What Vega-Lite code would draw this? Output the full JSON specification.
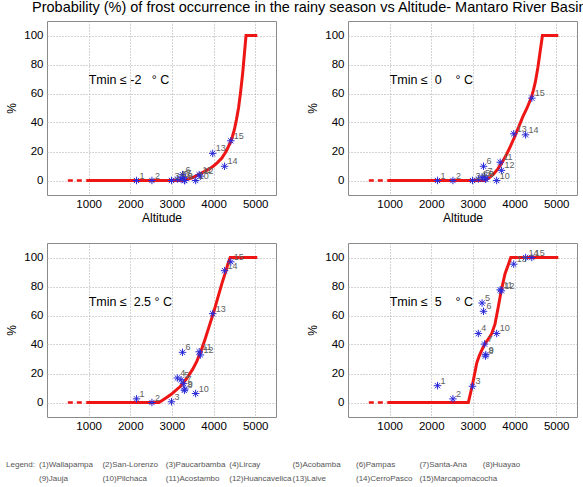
{
  "$schema": "https://vega.github.io/schema/vega-lite/v6.json",
  "padding": {"left": 5, "top": 0, "right": 0, "bottom": 0},
  "title": {
    "text": "Probability (%) of frost occurrence in the rainy season vs Altitude- Mantaro River Basin",
    "anchor": "start",
    "frame": "group",
    "dx": -15,
    "offset": 5,
    "fontSize": 14.5,
    "fontWeight": "normal",
    "color": "#000"
  },
  "datasets": {
    "stations": [
      {"n": 1, "name": "Wallapampa", "alt": 2150, "tm2": 0, "t0": 0, "t25": 2.5, "t5": 11.6},
      {"n": 2, "name": "San-Lorenzo", "alt": 2520, "tm2": 0, "t0": 0, "t25": 0, "t5": 2.5},
      {"n": 3, "name": "Paucarbamba", "alt": 2990, "tm2": 0, "t0": 0, "t25": 0.5, "t5": 11.2},
      {"n": 4, "name": "Lircay", "alt": 3130, "tm2": 1, "t0": 1, "t25": 16.9, "t5": 47.6},
      {"n": 5, "name": "Acobamba", "alt": 3220, "tm2": 1, "t0": 2, "t25": 15.7, "t5": 68.6},
      {"n": 6, "name": "Pampas", "alt": 3255, "tm2": 4, "t0": 9.8, "t25": 34.6, "t5": 62.9},
      {"n": 7, "name": "Santa-Ana", "alt": 3280, "tm2": 2, "t0": 3, "t25": 13, "t5": 40.3},
      {"n": 8, "name": "Huayao", "alt": 3300, "tm2": 0, "t0": 1, "t25": 8.4, "t5": 32},
      {"n": 9, "name": "Jauja", "alt": 3310, "tm2": 0, "t0": 1, "t25": 9.3, "t5": 33},
      {"n": 10, "name": "Pilchaca", "alt": 3570, "tm2": 0, "t0": 0, "t25": 6.2, "t5": 47.6},
      {"n": 11, "name": "Acostambo", "alt": 3655, "tm2": 4, "t0": 12.6, "t25": 35, "t5": 77.7},
      {"n": 12, "name": "Huancavelica", "alt": 3685, "tm2": 3, "t0": 7, "t25": 32.8, "t5": 77},
      {"n": 13, "name": "Laive", "alt": 3980, "tm2": 18.7, "t0": 32.2, "t25": 61.3, "t5": 95.4},
      {"n": 14, "name": "CerroPasco", "alt": 4265, "tm2": 9.8, "t0": 31.5, "t25": 90.9, "t5": 100},
      {"n": 15, "name": "Marcapomacocha", "alt": 4415, "tm2": 27.4, "t0": 56.8, "t25": 97, "t5": 100}
    ],
    "curves": [
      {"panel": "tm2", "alt": 500, "pct": 0}, {"panel": "tm2", "alt": 950, "pct": 0},
      {"panel": "tm2", "alt": 3280, "pct": 0}, {"panel": "tm2", "alt": 3500, "pct": 2},
      {"panel": "tm2", "alt": 3700, "pct": 5}, {"panel": "tm2", "alt": 3900, "pct": 8},
      {"panel": "tm2", "alt": 4000, "pct": 10}, {"panel": "tm2", "alt": 4100, "pct": 12.5},
      {"panel": "tm2", "alt": 4200, "pct": 15.5}, {"panel": "tm2", "alt": 4300, "pct": 20},
      {"panel": "tm2", "alt": 4400, "pct": 26}, {"panel": "tm2", "alt": 4450, "pct": 30},
      {"panel": "tm2", "alt": 4500, "pct": 35}, {"panel": "tm2", "alt": 4550, "pct": 42},
      {"panel": "tm2", "alt": 4600, "pct": 50}, {"panel": "tm2", "alt": 4650, "pct": 61},
      {"panel": "tm2", "alt": 4700, "pct": 74}, {"panel": "tm2", "alt": 4740, "pct": 87},
      {"panel": "tm2", "alt": 4780, "pct": 100}, {"panel": "tm2", "alt": 5050, "pct": 100},

      {"panel": "t0", "alt": 500, "pct": 0}, {"panel": "t0", "alt": 950, "pct": 0},
      {"panel": "t0", "alt": 3270, "pct": 0}, {"panel": "t0", "alt": 3400, "pct": 2},
      {"panel": "t0", "alt": 3500, "pct": 4.5}, {"panel": "t0", "alt": 3600, "pct": 8},
      {"panel": "t0", "alt": 3700, "pct": 12.5}, {"panel": "t0", "alt": 3800, "pct": 17.5},
      {"panel": "t0", "alt": 3900, "pct": 23.5}, {"panel": "t0", "alt": 4000, "pct": 30},
      {"panel": "t0", "alt": 4100, "pct": 37}, {"panel": "t0", "alt": 4200, "pct": 44},
      {"panel": "t0", "alt": 4300, "pct": 50}, {"panel": "t0", "alt": 4400, "pct": 57},
      {"panel": "t0", "alt": 4450, "pct": 62}, {"panel": "t0", "alt": 4500, "pct": 68},
      {"panel": "t0", "alt": 4560, "pct": 78}, {"panel": "t0", "alt": 4620, "pct": 90},
      {"panel": "t0", "alt": 4670, "pct": 100}, {"panel": "t0", "alt": 5050, "pct": 100},

      {"panel": "t25", "alt": 500, "pct": 0}, {"panel": "t25", "alt": 950, "pct": 0},
      {"panel": "t25", "alt": 2690, "pct": 0}, {"panel": "t25", "alt": 2800, "pct": 2},
      {"panel": "t25", "alt": 2900, "pct": 4}, {"panel": "t25", "alt": 3000, "pct": 6},
      {"panel": "t25", "alt": 3100, "pct": 8.5}, {"panel": "t25", "alt": 3200, "pct": 11},
      {"panel": "t25", "alt": 3300, "pct": 14.5}, {"panel": "t25", "alt": 3400, "pct": 18.5},
      {"panel": "t25", "alt": 3500, "pct": 23}, {"panel": "t25", "alt": 3600, "pct": 28.5},
      {"panel": "t25", "alt": 3700, "pct": 35.5}, {"panel": "t25", "alt": 3800, "pct": 44},
      {"panel": "t25", "alt": 3900, "pct": 53}, {"panel": "t25", "alt": 4000, "pct": 62},
      {"panel": "t25", "alt": 4100, "pct": 72}, {"panel": "t25", "alt": 4200, "pct": 82},
      {"panel": "t25", "alt": 4300, "pct": 91}, {"panel": "t25", "alt": 4350, "pct": 96},
      {"panel": "t25", "alt": 4400, "pct": 100}, {"panel": "t25", "alt": 5050, "pct": 100},

      {"panel": "t5", "alt": 500, "pct": 0}, {"panel": "t5", "alt": 950, "pct": 0},
      {"panel": "t5", "alt": 2890, "pct": 0}, {"panel": "t5", "alt": 2980, "pct": 11},
      {"panel": "t5", "alt": 3050, "pct": 21}, {"panel": "t5", "alt": 3090, "pct": 27},
      {"panel": "t5", "alt": 3150, "pct": 32}, {"panel": "t5", "alt": 3210, "pct": 36},
      {"panel": "t5", "alt": 3300, "pct": 41}, {"panel": "t5", "alt": 3400, "pct": 45},
      {"panel": "t5", "alt": 3450, "pct": 47.5}, {"panel": "t5", "alt": 3530, "pct": 54},
      {"panel": "t5", "alt": 3610, "pct": 66}, {"panel": "t5", "alt": 3680, "pct": 77},
      {"panel": "t5", "alt": 3770, "pct": 88.6}, {"panel": "t5", "alt": 3850, "pct": 95},
      {"panel": "t5", "alt": 3910, "pct": 100}, {"panel": "t5", "alt": 5050, "pct": 100}
    ]
  },
  "columns": 2,
  "spacing": {"row": 48, "column": 72},
  "bounds": "flush",
  "concat": [
    {
      "width": 229, "height": 174,
      "view": {"stroke": "#8a8a8a", "strokeWidth": 1},
      "layer": [
        {"data": {"name": "curves"}, "transform": [{"filter": "datum.panel == 'tm2' && datum.alt <= 950"}],
         "mark": {"type": "line", "color": "#ee1515", "strokeWidth": 2.5, "strokeDash": [5, 4]},
         "encoding": {
           "x": {"field": "alt", "type": "quantitative", "scale": {"domain": [0, 5500], "nice": false, "zero": false},
                 "axis": {"values": [1000, 2000, 3000, 4000, 5000], "format": "d", "title": "Altitude"}},
           "y": {"field": "pct", "type": "quantitative", "scale": {"domain": [-10, 110], "nice": false, "zero": false},
                 "axis": {"values": [0, 20, 40, 60, 80, 100], "tickCount": 6, "labelOverlap": false, "format": "d", "title": "%"}}}},
        {"data": {"name": "curves"}, "transform": [{"filter": "datum.panel == 'tm2' && datum.alt >= 950"}],
         "mark": {"type": "line", "color": "#ee1515", "strokeWidth": 3},
         "encoding": {"x": {"field": "alt", "type": "quantitative"}, "y": {"field": "pct", "type": "quantitative"}}},
        {"data": {"name": "stations"},
         "mark": {"type": "point", "shape": "M0,-1L0,1M-1,0L1,0M-0.7,-0.7L0.7,0.7M-0.7,0.7L0.7,-0.7", "size": 56, "filled": false, "color": "#2a2ad8", "strokeWidth": 1, "opacity": 1},
         "encoding": {"x": {"field": "alt", "type": "quantitative"},
                      "y": {"field": "tm2", "type": "quantitative", "axis": {"values": [0, 20, 40, 60, 80, 100], "tickCount": 6, "labelOverlap": false, "format": "d", "title": "%"}}}},
        {"data": {"name": "stations"},
         "mark": {"type": "text", "align": "left", "baseline": "middle", "dx": 3, "dy": -5, "fontSize": 9, "color": "#606060"},
         "encoding": {"x": {"field": "alt", "type": "quantitative"}, "y": {"field": "tm2", "type": "quantitative"}, "text": {"field": "n"}}},
        {"data": {"values": [{}]},
         "mark": {"type": "text", "text": "Tmin ≤ -2\u00a0\u00a0\u00a0° C", "align": "left", "baseline": "middle", "fontSize": 12.5, "color": "#000"},
         "encoding": {"x": {"datum": 1000}, "y": {"datum": 69}}}
      ]
    },
    {
      "width": 229, "height": 174,
      "view": {"stroke": "#8a8a8a", "strokeWidth": 1},
      "layer": [
        {"data": {"name": "curves"}, "transform": [{"filter": "datum.panel == 't0' && datum.alt <= 950"}],
         "mark": {"type": "line", "color": "#ee1515", "strokeWidth": 2.5, "strokeDash": [5, 4]},
         "encoding": {
           "x": {"field": "alt", "type": "quantitative", "scale": {"domain": [0, 5500], "nice": false, "zero": false},
                 "axis": {"values": [1000, 2000, 3000, 4000, 5000], "format": "d", "title": "Altitude"}},
           "y": {"field": "pct", "type": "quantitative", "scale": {"domain": [-10, 110], "nice": false, "zero": false},
                 "axis": {"values": [0, 20, 40, 60, 80, 100], "tickCount": 6, "labelOverlap": false, "format": "d", "title": "%"}}}},
        {"data": {"name": "curves"}, "transform": [{"filter": "datum.panel == 't0' && datum.alt >= 950"}],
         "mark": {"type": "line", "color": "#ee1515", "strokeWidth": 3},
         "encoding": {"x": {"field": "alt", "type": "quantitative"}, "y": {"field": "pct", "type": "quantitative"}}},
        {"data": {"name": "stations"},
         "mark": {"type": "point", "shape": "M0,-1L0,1M-1,0L1,0M-0.7,-0.7L0.7,0.7M-0.7,0.7L0.7,-0.7", "size": 56, "filled": false, "color": "#2a2ad8", "strokeWidth": 1, "opacity": 1},
         "encoding": {"x": {"field": "alt", "type": "quantitative"},
                      "y": {"field": "t0", "type": "quantitative", "axis": {"values": [0, 20, 40, 60, 80, 100], "tickCount": 6, "labelOverlap": false, "format": "d", "title": "%"}}}},
        {"data": {"name": "stations"},
         "mark": {"type": "text", "align": "left", "baseline": "middle", "dx": 3, "dy": -5, "fontSize": 9, "color": "#606060"},
         "encoding": {"x": {"field": "alt", "type": "quantitative"}, "y": {"field": "t0", "type": "quantitative"}, "text": {"field": "n"}}},
        {"data": {"values": [{}]},
         "mark": {"type": "text", "text": "Tmin ≤\u00a0\u00a00\u00a0\u00a0\u00a0\u00a0° C", "align": "left", "baseline": "middle", "fontSize": 12.5, "color": "#000"},
         "encoding": {"x": {"datum": 1000}, "y": {"datum": 69}}}
      ]
    },
    {
      "width": 229, "height": 174,
      "view": {"stroke": "#8a8a8a", "strokeWidth": 1},
      "layer": [
        {"data": {"name": "curves"}, "transform": [{"filter": "datum.panel == 't25' && datum.alt <= 950"}],
         "mark": {"type": "line", "color": "#ee1515", "strokeWidth": 2.5, "strokeDash": [5, 4]},
         "encoding": {
           "x": {"field": "alt", "type": "quantitative", "scale": {"domain": [0, 5500], "nice": false, "zero": false},
                 "axis": {"values": [1000, 2000, 3000, 4000, 5000], "format": "d", "title": null}},
           "y": {"field": "pct", "type": "quantitative", "scale": {"domain": [-10, 110], "nice": false, "zero": false},
                 "axis": {"values": [0, 20, 40, 60, 80, 100], "tickCount": 6, "labelOverlap": false, "format": "d", "title": "%"}}}},
        {"data": {"name": "curves"}, "transform": [{"filter": "datum.panel == 't25' && datum.alt >= 950"}],
         "mark": {"type": "line", "color": "#ee1515", "strokeWidth": 3},
         "encoding": {"x": {"field": "alt", "type": "quantitative"}, "y": {"field": "pct", "type": "quantitative"}}},
        {"data": {"name": "stations"},
         "mark": {"type": "point", "shape": "M0,-1L0,1M-1,0L1,0M-0.7,-0.7L0.7,0.7M-0.7,0.7L0.7,-0.7", "size": 56, "filled": false, "color": "#2a2ad8", "strokeWidth": 1, "opacity": 1},
         "encoding": {"x": {"field": "alt", "type": "quantitative"},
                      "y": {"field": "t25", "type": "quantitative", "axis": {"values": [0, 20, 40, 60, 80, 100], "tickCount": 6, "labelOverlap": false, "format": "d", "title": "%"}}}},
        {"data": {"name": "stations"},
         "mark": {"type": "text", "align": "left", "baseline": "middle", "dx": 3, "dy": -5, "fontSize": 9, "color": "#606060"},
         "encoding": {"x": {"field": "alt", "type": "quantitative"}, "y": {"field": "t25", "type": "quantitative"}, "text": {"field": "n"}}},
        {"data": {"values": [{}]},
         "mark": {"type": "text", "text": "Tmin ≤\u00a0\u00a02.5 ° C", "align": "left", "baseline": "middle", "fontSize": 12.5, "color": "#000"},
         "encoding": {"x": {"datum": 1000}, "y": {"datum": 69}}}
      ]
    },
    {
      "width": 229, "height": 174,
      "view": {"stroke": "#8a8a8a", "strokeWidth": 1},
      "layer": [
        {"data": {"name": "curves"}, "transform": [{"filter": "datum.panel == 't5' && datum.alt <= 950"}],
         "mark": {"type": "line", "color": "#ee1515", "strokeWidth": 2.5, "strokeDash": [5, 4]},
         "encoding": {
           "x": {"field": "alt", "type": "quantitative", "scale": {"domain": [0, 5500], "nice": false, "zero": false},
                 "axis": {"values": [1000, 2000, 3000, 4000, 5000], "format": "d", "title": null}},
           "y": {"field": "pct", "type": "quantitative", "scale": {"domain": [-10, 110], "nice": false, "zero": false},
                 "axis": {"values": [0, 20, 40, 60, 80, 100], "tickCount": 6, "labelOverlap": false, "format": "d", "title": "%"}}}},
        {"data": {"name": "curves"}, "transform": [{"filter": "datum.panel == 't5' && datum.alt >= 950"}],
         "mark": {"type": "line", "color": "#ee1515", "strokeWidth": 3},
         "encoding": {"x": {"field": "alt", "type": "quantitative"}, "y": {"field": "pct", "type": "quantitative"}}},
        {"data": {"name": "stations"},
         "mark": {"type": "point", "shape": "M0,-1L0,1M-1,0L1,0M-0.7,-0.7L0.7,0.7M-0.7,0.7L0.7,-0.7", "size": 56, "filled": false, "color": "#2a2ad8", "strokeWidth": 1, "opacity": 1},
         "encoding": {"x": {"field": "alt", "type": "quantitative"},
                      "y": {"field": "t5", "type": "quantitative", "axis": {"values": [0, 20, 40, 60, 80, 100], "tickCount": 6, "labelOverlap": false, "format": "d", "title": "%"}}}},
        {"data": {"name": "stations"},
         "mark": {"type": "text", "align": "left", "baseline": "middle", "dx": 3, "dy": -5, "fontSize": 9, "color": "#606060"},
         "encoding": {"x": {"field": "alt", "type": "quantitative"}, "y": {"field": "t5", "type": "quantitative"}, "text": {"field": "n"}}},
        {"data": {"values": [{}]},
         "mark": {"type": "text", "text": "Tmin ≤\u00a0\u00a05\u00a0\u00a0\u00a0\u00a0° C", "align": "left", "baseline": "middle", "fontSize": 12.5, "color": "#000"},
         "encoding": {"x": {"datum": 1000}, "y": {"datum": 69}}}
      ]
    },
    {
      "width": 229, "height": 14,
      "view": {"stroke": null},
      "layer": [
        {"data": {"name": "stations"},
         "transform": [
           {"calculate": "(datum.n - 1) % 8", "as": "col"},
           {"calculate": "floor((datum.n - 1) / 8)", "as": "line"},
           {"calculate": "'(' + datum.n + ')' + datum.name", "as": "label"}
         ],
         "mark": {"type": "text", "align": "left", "baseline": "middle", "fontSize": 8, "color": "#555"},
         "encoding": {
           "x": {"field": "col", "type": "quantitative", "scale": {"domain": [0.126, 3.738], "nice": false, "zero": false}, "axis": null},
           "y": {"field": "line", "type": "quantitative", "scale": {"domain": [0, 1], "reverse": true, "nice": false, "zero": false}, "axis": null},
           "text": {"field": "label"}}},
        {"data": {"values": [{}]},
         "mark": {"type": "text", "text": "Legend:", "align": "left", "baseline": "middle", "fontSize": 8, "color": "#555"},
         "encoding": {"x": {"datum": -0.52}, "y": {"datum": 0}}}
      ]
    }
  ],
  "config": {
    "font": "Liberation Sans",
    "view": {"stroke": "#8a8a8a", "strokeWidth": 1},
    "axis": {
      "grid": true, "gridDash": [1, 2], "gridColor": "#a8a8a8", "gridOpacity": 1,
      "domain": false, "ticks": false,
      "labelOverlap": false, "labelFlush": false, "labelBound": false,
      "labelFontSize": 11.5, "labelColor": "#000", "labelFont": "Liberation Sans",
      "titleFontSize": 12, "titleFontWeight": "normal", "titleColor": "#000", "titleFont": "Liberation Sans"
    },
    "axisX": {"labelPadding": 3, "titlePadding": 3},
    "axisY": {"labelPadding": 4, "titlePadding": 5}
  }
}
